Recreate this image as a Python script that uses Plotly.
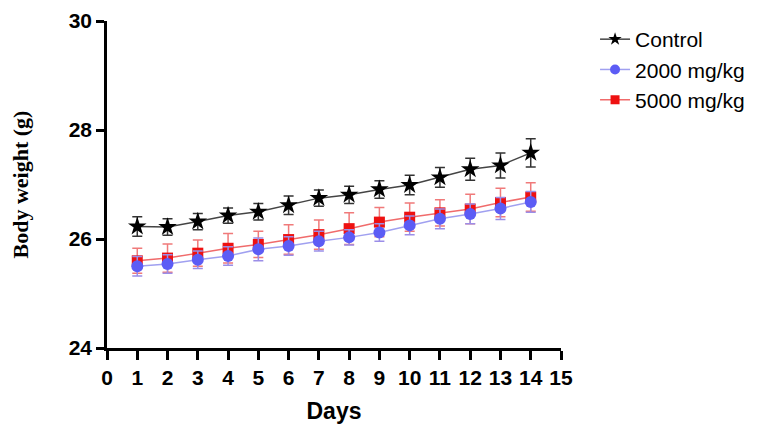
import plotly.graph_objects as go

days = list(range(1, 15))
control = [26.23, 26.22, 26.32, 26.43, 26.50, 26.62, 26.75, 26.81, 26.91, 26.99, 27.13, 27.28, 27.35, 27.58]
control_err = [0.18, 0.15, 0.15, 0.14, 0.15, 0.17, 0.15, 0.16, 0.16, 0.18, 0.18, 0.20, 0.23, 0.26]
dose2000 = [25.50, 25.54, 25.62, 25.69, 25.81, 25.87, 25.96, 26.03, 26.12, 26.25, 26.37, 26.46, 26.56, 26.68]
dose2000_err = [0.18, 0.17, 0.16, 0.17, 0.21, 0.17, 0.18, 0.14, 0.16, 0.17, 0.18, 0.18, 0.20, 0.19]
dose5000 = [25.60, 25.65, 25.74, 25.83, 25.90, 25.99, 26.08, 26.19, 26.31, 26.40, 26.48, 26.55, 26.67, 26.77]
dose5000_err = [0.23, 0.26, 0.24, 0.27, 0.24, 0.27, 0.27, 0.29, 0.27, 0.26, 0.24, 0.27, 0.26, 0.26]

x_ticks = list(range(0, 16))
y_ticks = [24, 26, 28, 30]

SANS = "Liberation Sans, Arial, sans-serif"

fig = go.Figure()

fig.add_trace(go.Scatter(
    x=days, y=dose5000, name="5000 mg/kg", mode="lines+markers",
    line=dict(color="#f06b6b", width=1.5),
    marker=dict(symbol="square", size=11, color="#ee1111"),
    error_y=dict(type="data", array=dose5000_err, visible=True, color="#f07a7a", thickness=1.5, width=5),
    showlegend=False,
))
fig.add_trace(go.Scatter(
    x=days, y=dose2000, name="2000 mg/kg", mode="lines+markers",
    line=dict(color="#a0a0f0", width=1.5),
    marker=dict(symbol="circle", size=12, color="#5c5cf5"),
    error_y=dict(type="data", array=dose2000_err, visible=True, color="#9b8ee8", thickness=1.5, width=5),
    showlegend=False,
))
fig.add_trace(go.Scatter(
    x=days, y=control, name="Control", mode="lines+markers",
    line=dict(color="#444444", width=1.5),
    marker=dict(symbol="star", size=14, color="#000000"),
    error_y=dict(type="data", array=control_err, visible=True, color="#333333", thickness=1.5, width=5),
    showlegend=False,
))

# legend entries in reference order
fig.add_trace(go.Scatter(x=[None], y=[None], name="Control", mode="lines+markers",
                         line=dict(color="#444444", width=1.5),
                         marker=dict(symbol="star", size=10, color="#000000")))
fig.add_trace(go.Scatter(x=[None], y=[None], name="2000 mg/kg", mode="lines+markers",
                         line=dict(color="#a0a0f0", width=1.5),
                         marker=dict(symbol="circle", size=10, color="#5c5cf5")))
fig.add_trace(go.Scatter(x=[None], y=[None], name="5000 mg/kg", mode="lines+markers",
                         line=dict(color="#f06b6b", width=1.5),
                         marker=dict(symbol="square", size=9, color="#ee1111")))

fig.update_layout(
    width=775, height=432,
    margin=dict(l=99, r=222, t=12, b=92),
    paper_bgcolor="white", plot_bgcolor="white",
    font=dict(family=SANS, color="black"),
    legend=dict(
        x=1.075, y=1.003, xanchor="left", yanchor="top",
        font=dict(size=21, family=SANS, color="black"),
        bgcolor="rgba(0,0,0,0)", itemwidth=30, tracegroupgap=1,
    ),
    xaxis=dict(
        range=[0, 15], tickmode="array", tickvals=x_ticks, automargin=False,
        ticklabeloverflow="allow",
        showline=True, linecolor="black", linewidth=2.5,
        ticks="outside", ticklen=9, tickwidth=2.5, tickcolor="black",
        tickfont=dict(size=21, weight="bold", family=SANS),
        showgrid=False, zeroline=False,
        title=dict(text="Days", font=dict(size=23, weight="bold", family=SANS), standoff=15),
    ),
    yaxis=dict(
        range=[24, 30], tickmode="array", tickvals=y_ticks, automargin=False,
        ticklabeloverflow="allow",
        showline=True, linecolor="black", linewidth=2.5,
        ticks="outside", ticklen=8, tickwidth=2.5, tickcolor="black",
        tickfont=dict(size=21, weight="bold", family=SANS),
        showgrid=False, zeroline=False,
        title=dict(text="Body weight (g)", font=dict(size=22, weight="bold", family="Liberation Serif, Times New Roman, serif"), standoff=42),
    ),
)

fig.write_html("out.html")
